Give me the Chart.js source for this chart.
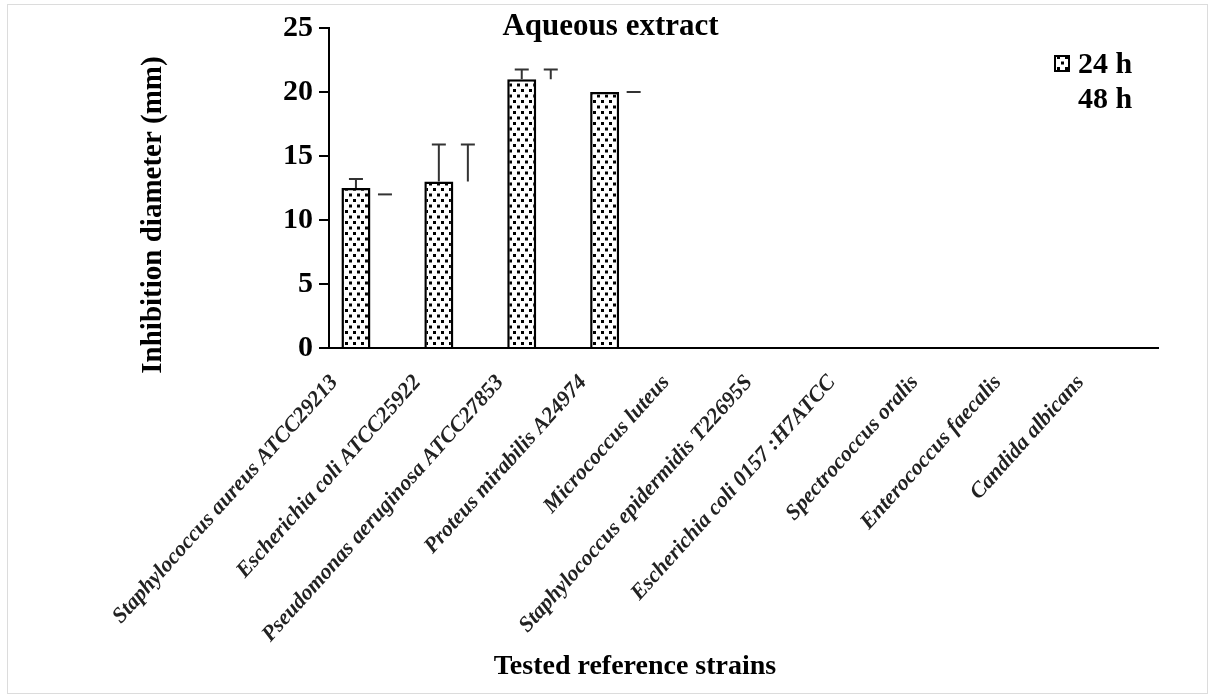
<!DOCTYPE html>
<html><head><meta charset="utf-8">
<script src="https://cdn.jsdelivr.net/npm/chart.js@4"></script>
<style>
html,body{margin:0;padding:0;background:#fff;}
#wrap{position:relative;width:1221px;height:696px;overflow:hidden;}
#frame{position:absolute;left:7px;top:4px;width:1201px;height:690px;border:1px solid #dcdcdc;box-sizing:border-box;pointer-events:none;}
canvas{position:absolute;left:0;top:0;}
</style></head><body>
<div id="wrap"><div id="frame"></div><canvas id="c" width="1221" height="696"></canvas></div>
<script>
const chartTitle = 'Aqueous extract';
const xAxisTitle = 'Tested reference strains';
const yAxisTitle = 'Inhibition diameter (mm)';
const strains = [
  'Staphylococcus aureus ATCC29213',
  'Escherichia coli ATCC25922',
  'Pseudomonas aeruginosa ATCC27853',
  'Proteus mirabilis A24974',
  'Micrococcus luteus',
  'Staphylococcus epidermidis T22695S',
  'Escherichia coli 0157 :H7ATCC',
  'Spectrococcus oralis',
  'Enterococcus faecalis',
  'Candida albicans'
];
const seriesLabels = ['24 h', '48 h'];
const values24h = [12.5, 13, 21, 20, 0, 0, 0, 0, 0, 0];
const errors24h = [0.7, 2.9, 0.75, null, null, null, null, null, null, null];
const values48h = [12, 13, 21, 20, 0, 0, 0, 0, 0, 0];
const errors48h = [0, 2.9, 0.75, 0, null, null, null, null, null, null];
const yTicks = [0, 5, 10, 15, 20, 25];

const FONT = 'Liberation Serif';
const canvas = document.getElementById('c');
const ctx = canvas.getContext('2d');

function dotPattern() {
  const t = document.createElement('canvas');
  t.width = 8; t.height = 11;
  const g = t.getContext('2d');
  g.fillStyle = '#fff'; g.fillRect(0, 0, 8, 11);
  g.fillStyle = '#000';
  g.fillRect(1, 1, 3, 3);
  g.fillRect(5, 6.5, 3, 3);
  return ctx.createPattern(t, 'repeat');
}

const errorBars = {
  id: 'errorBars',
  afterDatasetsDraw(chart) {
    const c = chart.ctx, y = chart.scales.y;
    chart.data.datasets.forEach((ds, i) => {
      const meta = chart.getDatasetMeta(i);
      meta.data.forEach((bar, j) => {
        const e = ds.errors[j];
        if (e == null) return;
        const v = ds.data[j];
        const top = y.getPixelForValue(v + e), base = y.getPixelForValue(v);
        c.save();
        c.strokeStyle = '#333'; c.lineWidth = 2;
        c.beginPath();
        c.moveTo(bar.x, base); c.lineTo(bar.x, top);
        c.moveTo(bar.x - 7, top); c.lineTo(bar.x + 7, top);
        c.stroke();
        c.restore();
      });
    });
  }
};

const axisTitles = {
  id: 'axisTitles',
  afterDraw(chart) {
    const c = chart.ctx;
    c.save();
    c.fillStyle = '#000';
    c.textAlign = 'center'; c.textBaseline = 'middle';
    c.font = 'bold 28px "' + FONT + '"';
    c.fillText(xAxisTitle, 635, 667);
    c.translate(154, 215);
    c.rotate(-Math.PI / 2);
    c.font = 'bold 29px "' + FONT + '"';
    c.fillText(yAxisTitle, 0, 0);
    c.restore();
  }
};

const innerLegend = {
  id: 'innerLegend',
  afterDraw(chart) {
    const c = chart.ctx;
    c.save();
    c.font = 'bold 30px "' + FONT + '"';
    c.textBaseline = 'middle'; c.textAlign = 'left';
    chart.data.datasets.forEach((ds, i) => {
      const bx = 1055, by = 56 + i * 35;
      c.fillStyle = ds.backgroundColor;
      c.fillRect(bx, by, 14, 15);
      if (ds.borderWidth > 0) {
        c.strokeStyle = ds.borderColor; c.lineWidth = 2;
        c.strokeRect(bx, by, 14, 15);
      }
      c.fillStyle = '#000';
      c.fillText(ds.label, 1078, by + 9);
    });
    c.restore();
  }
};

new Chart(ctx, {
  type: 'bar',
  data: {
    labels: strains,
    datasets: [
      { label: seriesLabels[0], data: values24h, errors: errors24h,
        backgroundColor: dotPattern(), borderColor: '#000', borderWidth: 2.5 },
      { label: seriesLabels[1], data: values48h, errors: errors48h,
        backgroundColor: '#fff', borderColor: '#fff', borderWidth: 0 }
    ]
  },
  options: {
    responsive: false,
    animation: false,
    devicePixelRatio: 1,
    layout: { padding: 0 },
    datasets: { bar: { categoryPercentage: 0.7, barPercentage: 1 } },
    plugins: {
      legend: { display: false },
      tooltip: { enabled: false },
      title: { display: true, text: chartTitle, color: '#000',
        font: { family: FONT, size: 31, weight: 'bold' },
        padding: { top: 8, bottom: -17.2 } }
    },
    scales: {
      x: {
        offset: true,
        grid: { display: false, drawTicks: false },
        border: { display: true, color: '#000', width: 2 },
        ticks: { autoSkip: false, minRotation: 48, maxRotation: 48, padding: 22, labelOffset: -36,
          color: '#222', font: { family: FONT, size: 22, style: 'italic', weight: 'bold' } },
        afterFit(s) { s.height = 348; }
      },
      y: {
        min: 0, max: 25,
        afterBuildTicks(s) { s.ticks = yTicks.map(v => ({ value: v })); },
        grid: { drawOnChartArea: false, drawTicks: true, tickLength: 10, color: '#000', lineWidth: 2 },
        border: { display: true, color: '#000', width: 2 },
        ticks: { padding: 6, color: '#000', font: { family: FONT, size: 30, weight: 'bold' } },
        afterFit(s) { s.width = 329; }
      },
      yPad: {
        position: 'right', display: true,
        grid: { display: false }, border: { display: false }, ticks: { display: false },
        afterFit(s) { s.width = 63; }
      }
    }
  },
  plugins: [errorBars, axisTitles, innerLegend]
});
</script>
</body></html>
